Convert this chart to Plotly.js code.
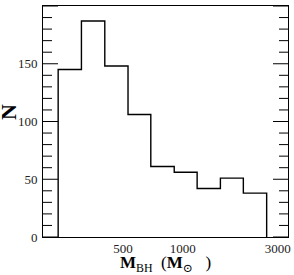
<!DOCTYPE html>
<html><head><meta charset="utf-8">
<script src="https://cdn.plot.ly/plotly-3.0.1.min.js"></script>
<style>
html,body{margin:0;padding:0;background:#fff}#chart{width:294px;height:275px}
</style>
</head><body><div id="chart"></div>
<script>
// Bin edges of the histogram (black-hole mass, solar masses), log-spaced
const binEdges = [236, 309, 405, 530, 690, 905, 1180, 1545, 2015, 2640];
// Counts per bin
const counts = [145, 187, 148, 106, 61, 56, 42, 51, 38];
// Axis ticks
const xMajorTicks = [500, 1000, 3000];
const xMajorLabels = ['500', '1000', '3000'];
const xMinorTicks = [300, 400, 600, 700, 800, 900, 2000];
const yMajorTicks = [0, 50, 100, 150, 200];
const yMinorTicks = [10, 20, 30, 40, 60, 70, 80, 90, 110, 120, 130, 140, 160, 170, 180, 190];

// Build the step outline from the arrays
const xs = [binEdges[0]];
const ys = [0];
for (let i = 0; i < counts.length; i++) { xs.push(binEdges[i]); ys.push(counts[i]); }
xs.push(binEdges[binEdges.length - 1]); ys.push(0);

const W = 294, H = 275;
const margin = {l: 43, r: 6, t: 6, b: 38};
const plotW = W - margin.l - margin.r, plotH = H - margin.t - margin.b;
const majorLen = 15, minorLen = 9;

// Inside tick marks on all four sides, placed through the axes' scales
const shapes = [];
function xTick(v, len) {
  const f = len / plotH;
  const lx = Math.log10(v);
  shapes.push({type: 'line', xref: 'x', yref: 'paper', x0: lx, x1: lx, y0: 0, y1: f, line: {color: '#000', width: 1}});
  shapes.push({type: 'line', xref: 'x', yref: 'paper', x0: lx, x1: lx, y0: 1 - f, y1: 1, line: {color: '#000', width: 1}});
}
function yTick(v, len) {
  const f = len / plotW;
  shapes.push({type: 'line', xref: 'paper', yref: 'y', x0: 0, x1: f, y0: v, y1: v, line: {color: '#000', width: 1}});
  shapes.push({type: 'line', xref: 'paper', yref: 'y', x0: 1 - f, x1: 1, y0: v, y1: v, line: {color: '#000', width: 1}});
}
xMajorTicks.forEach(v => xTick(v, majorLen));
xMinorTicks.forEach(v => xTick(v, minorLen));
yMajorTicks.forEach(v => yTick(v, majorLen));
yMinorTicks.forEach(v => yTick(v, minorLen));

const serif = 'Liberation Serif, DejaVu Serif, serif';
const trace = {
  x: xs, y: ys, type: 'scatter', mode: 'lines',
  line: {shape: 'hv', color: '#000', width: 1.4},
  hoverinfo: 'skip'
};
const layout = {
  width: W, height: H, margin: margin,
  showlegend: false,
  paper_bgcolor: '#fff', plot_bgcolor: '#fff',
  font: {family: serif, size: 13, color: '#222'},
  xaxis: {
    type: 'log', range: [Math.log10(198), Math.log10(3380)],
    tickmode: 'array', tickvals: xMajorTicks, ticktext: xMajorLabels, ticks: '',
    showline: true, linecolor: '#000', linewidth: 1, mirror: true,
    showgrid: false, zeroline: false,
    tickfont: {family: serif, size: 13, color: '#222'}, ticklabelstandoff: -1,
    title: {text: '<b>M</b><sub>BH</sub>&nbsp; (<b>M</b><sub>⊙</sub>&nbsp;&nbsp; )', font: {family: serif, size: 17, color: '#000'}, standoff: 0}
  },
  yaxis: {
    range: [0, 200],
    tickmode: 'array', tickvals: yMajorTicks, ticks: '',
    showline: true, linecolor: '#000', linewidth: 1, mirror: true,
    showgrid: false, zeroline: false,
    tickfont: {family: serif, size: 13, color: '#222'}, ticklabelstandoff: 2
  },
  shapes: shapes,
  annotations: [{
    text: '<b>N</b>', textangle: -90, xref: 'paper', yref: 'paper',
    x: -0.143, y: 0.541, xanchor: 'center', yanchor: 'middle', showarrow: false,
    font: {family: serif, size: 22, color: '#000'}
  }]
};
Plotly.newPlot('chart', [trace], layout, {displayModeBar: false});
</script></body></html>
